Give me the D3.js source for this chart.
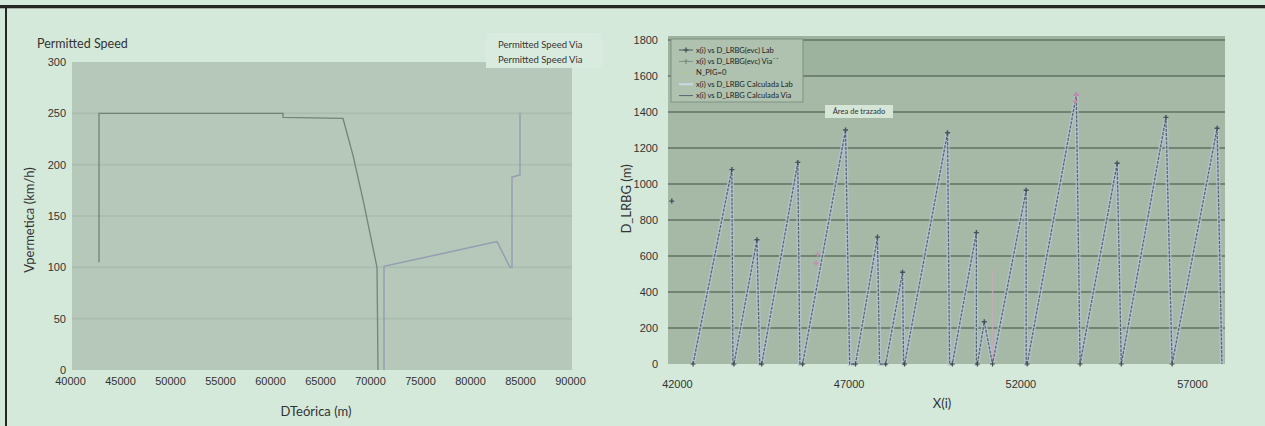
<!DOCTYPE html>
<html>
<head>
<meta charset="utf-8">
<script src="https://cdn.jsdelivr.net/npm/d3@7"></script>
<style>
  body { margin: 0; background: #d4e9da; }
  svg  { display: block; font-family: Lato, "Open Sans", sans-serif; }
</style>
</head>
<body>
<div id="chart"></div>
<script>
// ---- left chart data (Permitted Speed) ----
const distTicks  = [40000, 45000, 50000, 55000, 60000, 65000, 70000, 75000, 80000, 85000, 90000];
const speedTicks = [0, 50, 100, 150, 200, 250, 300];
const permX = [42900, 42900, 61300, 61300, 67300, 68300, 69300, 70000, 70700, 70800];
const permV = [105, 250, 250, 246, 245, 209, 166, 133, 100, 0];
const viaX  = [71400, 71400, 82700, 84000, 84200, 84200, 85000, 85000];
const viaV  = [0, 101, 125, 100, 100, 188, 190, 250];
const leftLegend = ["Permitted Speed Via", "Permitted Speed Via"];

// ---- right chart data (D_LRBG sawtooth) ----
const xiTicks    = [42000, 47000, 52000, 57000];
const lrbgTicks  = [0, 200, 400, 600, 800, 1000, 1200, 1400, 1600, 1800];
const baseX = [42470, 43660, 44470, 45660, 47200, 48080, 48630, 50020, 50750, 51190, 52200, 53740, 54940, 56420];
const peakX = [43600, 44330, 45520, 46910, 47840, 48570, 49880, 50720, 50950, 52170, 53630, 54820, 56240, 57730];
const peakD = [1080, 690, 1120, 1300, 705, 510, 1285, 730, 235, 965, 1495, 1115, 1370, 1310];
const dropX = [43630, 44410, 45580, 47030, 47900, 48600, 49940, 50720, 51190, 52170, 53740, 54940, 56420, 57870];
const tailX = [41850], tailD = [905];
const viaEvcX = [53630, 53600, 46050, 46100];
const viaEvcD = [1495, 1460, 560, 610];
const calcViaX = [51190, 51190], calcViaD = [0, 520];
const rightLegend = [
  "x(i) vs D_LRBG(evc) Lab",
  "x(i) vs D_LRBG(evc) Via\u00b4\u00b4",
  "N_PIG=0",
  "x(i) vs D_LRBG Calculada Lab",
  "x(i) vs D_LRBG Calculada Via"
];

const W = 1265, H = 426;
const svg = d3.select("#chart").append("svg")
  .attr("width", W).attr("height", H);

svg.append("rect").attr("width", W).attr("height", H).attr("fill", "#d4e9da");

// frame
svg.append("rect").attr("x", 0).attr("y", 5).attr("width", W).attr("height", 3).attr("fill", "#262626");
svg.append("rect").attr("x", 0).attr("y", 8).attr("width", W).attr("height", 1).attr("fill", "#a9b3ac");
svg.append("rect").attr("x", 5).attr("y", 5).attr("width", 2).attr("height", H - 5).attr("fill", "#262626");

// ================= LEFT CHART =================
const xL = d3.scaleLinear().domain([40000, 90000]).range([70, 570]);
const yL = d3.scaleLinear().domain([0, 300]).range([370, 62]);
const left = svg.append("g");

left.append("rect")
  .attr("x", xL(40000) + 2).attr("y", yL(300))
  .attr("width", xL(90000) - xL(40000)).attr("height", yL(0) - yL(300))
  .attr("fill", "#b5c8b9");

left.selectAll(".hgrid")
  .data(speedTicks.slice(1, -1))
  .enter().append("line")
    .attr("x1", xL(40000) + 2).attr("x2", xL(90000) + 2)
    .attr("y1", d => yL(d)).attr("y2", d => yL(d))
    .attr("stroke", "#abbeaf").attr("stroke-width", 2);

const lineL = d3.line().x(d => xL(d[0])).y(d => yL(d[1]));

left.append("path")
  .attr("d", lineL(d3.zip(permX, permV)))
  .attr("fill", "none").attr("stroke", "#75837a").attr("stroke-width", 1.3);

left.append("path")
  .attr("d", lineL(d3.zip(viaX, viaV)))
  .attr("fill", "none").attr("stroke", "#969bb2").attr("stroke-width", 1.4);

left.append("g")
  .attr("transform", "translate(" + xL(40000) + ",0)")
  .call(d3.axisLeft(yL).tickValues(speedTicks).tickSize(0).tickPadding(4))
  .call(g => g.select(".domain").remove())
  .selectAll("text").attr("font-size", 11).attr("fill", "#333").attr("font-family", null);

left.append("g")
  .attr("transform", "translate(0," + yL(0) + ")")
  .call(d3.axisBottom(xL).tickValues(distTicks).tickFormat(d3.format("d")).tickSize(0).tickPadding(7))
  .call(g => g.select(".domain").remove())
  .selectAll("text").attr("font-size", 11).attr("fill", "#333").attr("font-family", null);

left.append("text").attr("x", 37).attr("y", 48)
  .attr("font-size", 12.5).attr("fill", "#333").text("Permitted Speed");

left.append("text").attr("x", 316).attr("y", 416).attr("text-anchor", "middle")
  .attr("font-size", 13).attr("fill", "#333").text("DTeórica (m)");

left.append("text")
  .attr("transform", "translate(34,220) rotate(-90)").attr("text-anchor", "middle")
  .attr("font-size", 13).attr("fill", "#333").text("Vpermetica (km/h)");

left.append("rect").attr("x", 486).attr("y", 33).attr("width", 116).attr("height", 35)
  .attr("fill", "#d9ebde");
left.selectAll(".leg")
  .data(leftLegend)
  .enter().append("text")
    .attr("x", 498).attr("y", (d, i) => 48 + i * 14.5)
    .attr("font-size", 9.5).attr("fill", "#333").text(d => d);

// ================= RIGHT CHART =================
const xR = d3.scaleLinear().domain([41740, 57960]).range([668, 1225]);
const yR = d3.scaleLinear().domain([0, 1800]).range([364, 40]);
const right = svg.append("g");

right.append("rect")
  .attr("x", xR(41740)).attr("y", yR(1800) - 4)
  .attr("width", xR(57960) - xR(41740)).attr("height", yR(0) - yR(1800) + 4)
  .attr("fill", "#a5b9a6");
right.append("rect")
  .attr("x", xR(41740)).attr("y", yR(1800) - 4)
  .attr("width", xR(57960) - xR(41740)).attr("height", yR(1600) - yR(1800) + 4)
  .attr("fill", "#9db39e");

right.selectAll(".hgrid")
  .data(lrbgTicks.slice(1))
  .enter().append("line")
    .attr("x1", xR(41740)).attr("x2", xR(57960))
    .attr("y1", d => yR(d)).attr("y2", d => yR(d))
    .attr("stroke", "#607363").attr("stroke-width", 1.6);

const lineR = d3.line().x(d => xR(d[0])).y(d => yR(d[1]));
const labPts = [];
baseX.forEach((b, i) => {
  labPts.push([b, 0], [peakX[i], peakD[i]], [dropX[i], 0]);
});

// calculated (light band)
right.append("path")
  .attr("d", lineR(labPts))
  .attr("fill", "none").attr("stroke", "#b8c4d6").attr("stroke-width", 4).attr("opacity", 0.75);

right.append("path")
  .attr("d", lineR(d3.zip(calcViaX, calcViaD)))
  .attr("fill", "none").attr("stroke", "#c9a9bd").attr("stroke-width", 1.5).attr("opacity", 0.8);

// measured Lab (dotted dark)
right.append("path")
  .attr("d", lineR(labPts))
  .attr("fill", "none").attr("stroke", "#4f5c68").attr("stroke-width", 1.3)
  .attr("stroke-dasharray", "3,1.2").attr("opacity", 0.9);

const cross = "M-2.5,0H2.5M0,-2.5V2.5";
right.selectAll(".peak")
  .data(d3.zip(peakX, peakD).concat(d3.zip(tailX, tailD)))
  .enter().append("path")
    .attr("d", cross)
    .attr("transform", d => "translate(" + xR(d[0]) + "," + yR(d[1]) + ")")
    .attr("stroke", "#44525c").attr("stroke-width", 1.4);

right.selectAll(".via")
  .data(d3.zip(viaEvcX, viaEvcD))
  .enter().append("path")
    .attr("d", cross)
    .attr("transform", d => "translate(" + xR(d[0]) + "," + yR(d[1]) + ")")
    .attr("stroke", "#c48fb3").attr("stroke-width", 1.6);

right.selectAll(".pig")
  .data(baseX)
  .enter().append("path")
    .attr("d", cross)
    .attr("transform", d => "translate(" + xR(d) + "," + yR(0) + ")")
    .attr("stroke", "#3f4d47").attr("stroke-width", 1.2);

right.append("g")
  .attr("transform", "translate(" + xR(41740) + ",0)")
  .call(d3.axisLeft(yR).tickValues(lrbgTicks).tickFormat(d3.format("d")).tickSize(0).tickPadding(10))
  .call(g => g.select(".domain").remove())
  .selectAll("text").attr("font-size", 11).attr("fill", "#333").attr("font-family", null);

right.append("g")
  .attr("transform", "translate(0," + yR(0) + ")")
  .call(d3.axisBottom(xR).tickValues(xiTicks).tickFormat(d3.format("d")).tickSize(0).tickPadding(16))
  .call(g => g.select(".domain").remove())
  .selectAll("text").attr("font-size", 11).attr("fill", "#333").attr("font-family", null);

right.append("text").attr("x", 942).attr("y", 408).attr("text-anchor", "middle")
  .attr("font-size", 13).attr("fill", "#333").text("X(i)");

right.append("text")
  .attr("transform", "translate(631,199) rotate(-90)").attr("text-anchor", "middle")
  .attr("font-size", 13).attr("fill", "#333").text("D_LRBG (m)");

// legend
const leg = right.append("g");
leg.append("rect").attr("x", 671).attr("y", 39).attr("width", 132).attr("height", 63)
  .attr("fill", "#afc2af").attr("stroke", "#7f9381").attr("stroke-width", 1);
const legColors = ["#4b5a55", "#7f9086", "#a9c89a", "#c9d8e4", "#56656a"];
leg.selectAll(".item")
  .data(rightLegend)
  .enter().append("g")
    .attr("transform", (d, i) => "translate(686," + (50 + i * 11.4) + ")")
    .each(function (d, i) {
      const g = d3.select(this);
      g.append("line").attr("x1", -7).attr("x2", 7)
        .attr("stroke", legColors[i]).attr("stroke-width", i === 3 ? 2 : 1);
      if (i < 3) {
        g.append("path").attr("d", cross).attr("stroke", legColors[i]).attr("stroke-width", 1.4);
      }
      g.append("text").attr("x", 10).attr("dy", "0.33em")
        .attr("font-size", 7.6).attr("fill", "#222").text(d);
    });

// tooltip-like label
right.append("rect").attr("x", 825).attr("y", 105).attr("width", 68).attr("height", 13)
  .attr("fill", "#d5e5d6");
right.append("text").attr("x", 859).attr("y", 111.5).attr("dy", "0.33em")
  .attr("text-anchor", "middle").attr("font-size", 7.6).attr("fill", "#333")
  .text("Área de trazado");
</script>
</body>
</html>
